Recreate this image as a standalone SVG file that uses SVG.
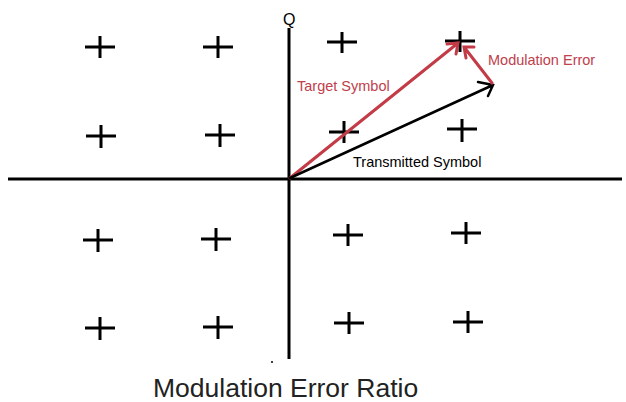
<svg xmlns="http://www.w3.org/2000/svg" width="626" height="402" viewBox="0 0 626 402">
<style>
.axis{stroke:#000;stroke-width:3;fill:none}
.pt{stroke:#000;stroke-width:3;fill:none}
.red{stroke:#c23b47;stroke-width:3;fill:none;stroke-linecap:round}
.blk{stroke:#000;stroke-width:2.5;fill:none;stroke-linecap:round}
.lbl{font-family:"Liberation Sans",Arial,sans-serif;font-size:14.5px}
.rl{fill:#c0404c}
</style>
<rect width="626" height="402" fill="#fff"/>
<g id="axes">
<line class="axis" x1="8" y1="179" x2="622" y2="179"/>
<line class="axis" x1="289" y1="28" x2="289" y2="359"/>
<text x="283" y="25" style="font-family:'Liberation Sans',Arial,sans-serif;font-size:16px">Q</text>
<circle cx="272" cy="362" r="1" fill="#000"/>
</g>
<g id="points">
<path class="pt" d="M85 47h30M100 36v22"/>
<path class="pt" d="M203 47h30M218 36v22"/>
<path class="pt" d="M327 42h30M342 32v21"/>
<path class="pt" d="M445 41h30M460 31v21"/>
<path class="pt" d="M86 136h30M101 125v23"/>
<path class="pt" d="M205 135h30M220 124v23"/>
<path class="pt" d="M329 132h30M344 121v22"/>
<path class="pt" d="M447 129h30M462 119v23"/>
<path class="pt" d="M83 240h30M98 229v23"/>
<path class="pt" d="M201 239h30M216 228v23"/>
<path class="pt" d="M333 235h30M348 224v22"/>
<path class="pt" d="M451 233h30M466 222v22"/>
<path class="pt" d="M85 328h30M100 317v23"/>
<path class="pt" d="M203 327h30M218 316v23"/>
<path class="pt" d="M334 323h30M349 312v22"/>
<path class="pt" d="M453 322h30M468 311v22"/>
</g>
<g id="connectors">
<path class="red" d="M290 178L458 43M447 44L458 43L456 54"/>
<path class="blk" d="M290 178L493 85M478 82L493 85L488 96"/>
<path class="red" d="M492 83L464 47M474 47L464 47L466 58"/>
</g>
<g id="labels">
<text x="297" y="91" class="lbl rl">Target Symbol</text>
<text x="488" y="65" class="lbl rl">Modulation Error</text>
<text x="353" y="167" class="lbl">Transmitted Symbol</text>
<text x="153" y="397" style="font-family:'Liberation Sans',Arial,sans-serif;font-size:26.5px" fill="#222">Modulation Error Ratio</text>
</g>
</svg>
